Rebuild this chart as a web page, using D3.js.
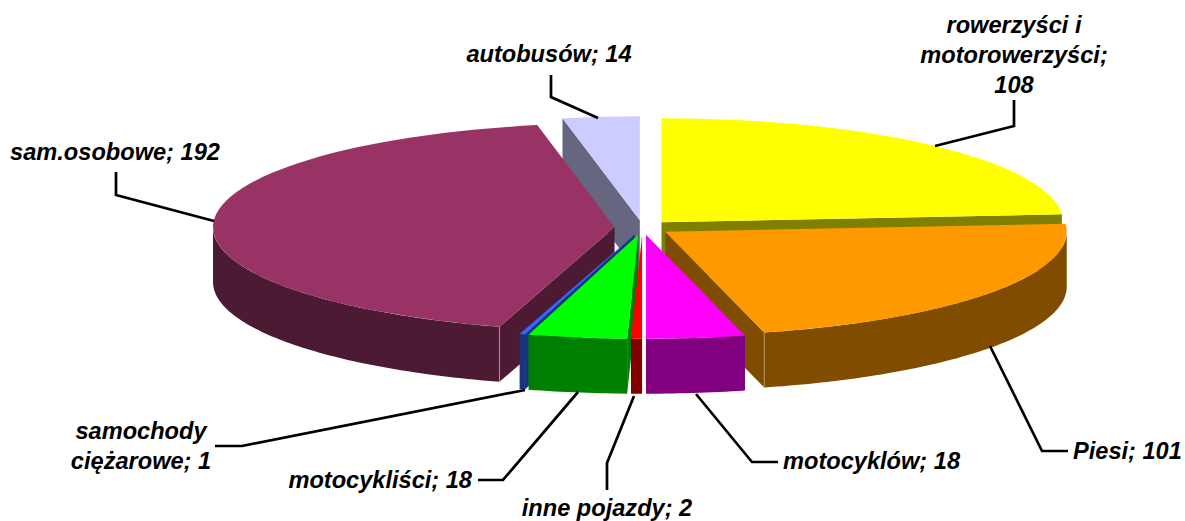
<!DOCTYPE html>
<html>
<head>
<meta charset="utf-8">
<style>
  html, body { margin: 0; padding: 0; background: #fff; }
  svg { display: block; }
  text { font-family: "Liberation Sans", Arial, sans-serif; font-weight: bold; font-style: italic; font-size: 23.6px; fill: #000; }
</style>
</head>
<body>
<script src="https://cdnjs.cloudflare.com/ajax/libs/d3/7.8.5/d3.min.js"></script>
<script>
// clockwise from 12 o'clock
const categories = ["rowerzyści i motorowerzyści", "Piesi", "motocyklów", "inne pojazdy",
                    "motocykliści", "samochody ciężarowe", "sam.osobowe", "autobusów"];
const values = [108, 101, 18, 2, 18, 1, 192, 14];
const topColors = ["#ffff00", "#ff9900", "#ff00ff", "#ff0000", "#00ff00", "#3366ff", "#993366", "#ccccff"];
const wallColors = ["#808000", "#804d00", "#800080", "#800000", "#008000", "#1a3380", "#4d1a33", "#666680"];

// label text, one entry per line
const labelLines = [
  ["rowerzyści i", "motorowerzyści;", "108"], ["Piesi; 101"], ["motocyklów; 18"], ["inne pojazdy; 2"],
  ["motocykliści; 18"], ["samochody", "ciężarowe; 1"], ["sam.osobowe; 192"], ["autobusów; 14"]
];
const labelAnchor = ["middle", "start", "start", "middle", "end", "middle", "middle", "middle"];
const labelX = [1014, 1073, 783, 607, 472, 141, 115, 549];
const labelY = [33, 459, 469, 516, 488, 439, 160, 62];
// leader lines, slice end -> elbow -> label end
const leaders = [
  [[935, 146], [1014, 126], [1014, 100]],
  [[990, 346], [1042, 451], [1068, 451]],
  [[696, 394], [752, 462], [778, 462]],
  [[634, 396], [607, 463], [607, 490]],
  [[578, 392], [503, 480], [478, 480]],
  [[525, 390], [242, 446], [215, 446]],
  [[214, 221], [116, 195], [116, 172]],
  [[598, 118], [551, 97], [551, 75]]
];

const width = 1185, height = 521;
const cx = 642.5, cy = 227.5, rx = 401.5, ry = 104, depth = 55, explode = 28;

const svg = d3.select("body").append("svg")
    .attr("width", width)
    .attr("height", height);

const pie = d3.pie().sort(null)(values);
const x = d3.scaleLinear().domain([-1, 1]).range([-rx, rx]);
const y = d3.scaleLinear().domain([-1, 1]).range([-ry, ry]);
const arc = d3.arc().innerRadius(0).outerRadius(rx);
const line = d3.line();
const area = d3.area().x(d => d[0]).y0(d => d[1]).y1(d => d[1] + depth);

// painter's order, back to front
const drawOrder = [7, 0, 6, 1, 5, 4, 3, 2];

drawOrder.forEach(function(i) {
  const d = pie[i];
  const mid = (d.startAngle + d.endAngle) / 2;
  const ox = cx + explode * Math.sin(mid);
  const oy = cy - explode * Math.cos(mid) * ry / rx;
  const rim = a => [ox + x(Math.sin(a)), oy + y(-Math.cos(a))];
  const g = svg.append("g");

  // flat cut faces, only those turned to the viewer
  [d.startAngle, d.endAngle].forEach(function(a, k) {
    const visible = k === 0 ? Math.sin(a) < -1e-6 : Math.sin(a) > 1e-6;
    if (!visible) return;
    const p = rim(a);
    g.append("path")
        .attr("d", line([[ox, oy], p, [p[0], p[1] + depth], [ox, oy + depth]]) + "Z")
        .attr("fill", wallColors[i]);
  });

  // curved outer wall, front half only
  const a0 = Math.max(d.startAngle, Math.PI / 2);
  const a1 = Math.min(d.endAngle, 3 * Math.PI / 2);
  if (a1 > a0) {
    const n = Math.ceil((a1 - a0) * 60);
    const pts = d3.range(n + 1).map(k => rim(a0 + (a1 - a0) * k / n));
    g.append("path").attr("d", area(pts)).attr("fill", wallColors[i]);
    if (a0 === d.startAngle && i === 6) {
      // pale seam where the cut face meets the curved wall
      g.append("path")
          .attr("d", line([pts[0], [pts[0][0], pts[0][1] + depth]]))
          .attr("stroke", "#c9a0b4").attr("stroke-width", 0.8).attr("fill", "none");
    }
    if (a1 === d.endAngle && i === 1) {
      g.append("path")
          .attr("d", line([pts[n], [pts[n][0], pts[n][1] + depth]]))
          .attr("stroke", "#b99a70").attr("stroke-width", 0.8).attr("fill", "none");
    }
  }

  // top face
  g.append("path")
      .attr("d", arc(d))
      .attr("transform", "translate(" + ox + "," + oy + ") scale(1," + (ry / rx) + ")")
      .attr("fill", topColors[i]);
});

// leader lines
svg.selectAll(".leader")
    .data(leaders)
  .enter().append("path")
    .attr("class", "leader")
    .attr("d", d => line(d))
    .attr("fill", "none")
    .attr("stroke", "#000")
    .attr("stroke-width", 2.7);

// labels
labelLines.forEach(function(lines, i) {
  svg.append("text")
      .attr("text-anchor", labelAnchor[i])
      .attr("data-name", categories[i])
      .selectAll("tspan")
      .data(lines)
    .enter().append("tspan")
      .attr("x", labelX[i])
      .attr("y", (d, k) => labelY[i] + k * 30)
      .text(d => d);
});
</script>
</body>
</html>
